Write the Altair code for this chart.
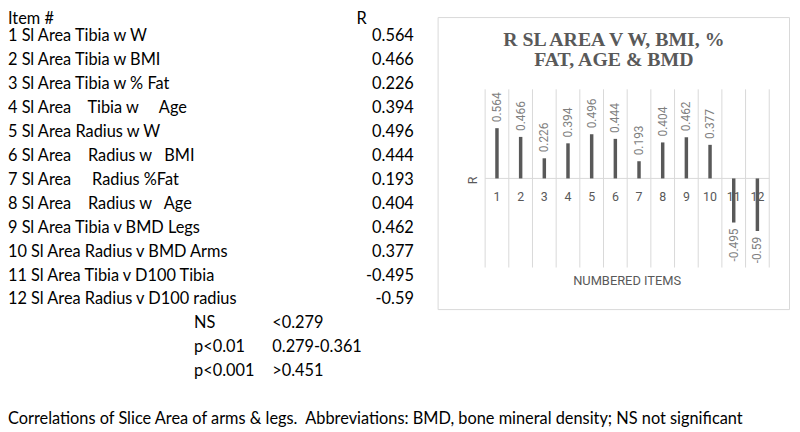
import altair as alt
import pandas as pd

# ---------------- data ----------------
items = list(range(1, 13))
item_labels = [
    "1 Sl Area Tibia w W",
    "2 Sl Area Tibia w BMI",
    "3 Sl Area Tibia w % Fat",
    "4 Sl Area\u00a0\u00a0\u00a0 Tibia w\u00a0\u00a0\u00a0\u00a0 Age",
    "5 Sl Area Radius w W",
    "6 Sl Area\u00a0\u00a0\u00a0 Radius w\u00a0\u00a0 BMI",
    "7 Sl Area\u00a0\u00a0\u00a0\u00a0 Radius %Fat",
    "8 Sl Area\u00a0\u00a0\u00a0 Radius w\u00a0\u00a0 Age",
    "9 Sl Area Tibia v BMD Legs",
    "10 Sl Area Radius v BMD Arms",
    "11 Sl Area Tibia v D100 Tibia",
    "12 Sl Area Radius v D100 radius",
]
r_values = [0.564, 0.466, 0.226, 0.394, 0.496, 0.444, 0.193, 0.404, 0.462, 0.377, -0.495, -0.59]
r_text = ["0.564", "0.466", "0.226", "0.394", "0.496", "0.444", "0.193", "0.404",
          "0.462", "0.377", "-0.495", "-0.59"]
table_header = ["Item #", "R"]
sig_levels = ["NS", "p<0.01", "p<0.001"]
sig_ranges = ["<0.279", "0.279-0.361", ">0.451"]
caption = ("Correlations of Slice Area of arms & legs.\u00a0 Abbreviations: BMD, "
           "bone mineral density; NS not significant")
chart_title = ["R SL AREA V W, BMI, %", "FAT, AGE & BMD"]
x_title = "NUMBERED ITEMS"
y_title = "R"

# ---------------- tables ----------------
rows_df = pd.DataFrame({
    "row": items,
    "label": item_labels,
    "rtext": r_text,
})
header_df = pd.DataFrame({"row": [0, 0], "text": table_header, "col": ["item", "r"]})
sig_df = pd.DataFrame({"row": [13, 14, 15], "level": sig_levels, "range": sig_ranges})
caption_df = pd.DataFrame({"row": [17], "text": [caption]})

bars_df = pd.DataFrame({"item": items, "r": r_values, "lab": r_text,
                        "tick": [str(i) for i in items]})
grid_df = pd.DataFrame({"b": [i - 0.5 for i in items] + [items[-1] + 0.5]})

TABLE_FONT = "Lato"
TFS = 16.5

row_scale = alt.Scale(domain=[0, 17], range=[2.5, 413])
ty = alt.Y("row:Q", scale=row_scale, axis=None)


def ttext(df, xpos, field, align="left", dy=0):
    return alt.Chart(df).mark_text(align=align, baseline="middle", font=TABLE_FONT,
                                   fontSize=TFS, color="#000000", dy=dy).encode(
        x=alt.value(xpos), y=ty, text=f"{field}:N")


t_items = ttext(rows_df, 0, "label")
t_r = ttext(rows_df, 410, "rtext", align="right")
t_h1 = ttext(header_df[header_df["col"] == "item"], 0, "text", dy=6.5)
t_h2 = ttext(header_df[header_df["col"] == "r"], 352, "text", dy=6.5)
t_s1 = ttext(sig_df, 188, "level")
t_s2 = ttext(sig_df, 267, "range")
t_cap = ttext(caption_df, 0, "text")

table = alt.layer(t_items, t_r, t_h1, t_h2, t_s1, t_s2, t_cap)

# ---------------- bar chart ----------------
xs = alt.Scale(domain=[0.5, 12.5], range=[477, 774])
ys = alt.Scale(domain=[-1, 1], range=[260, 80])

box_df = pd.DataFrame({"k": [0]})
box = alt.Chart(box_df).mark_rect(fill="white", stroke="#d9d9d9", strokeWidth=1).encode(
    x=alt.value(434.5), x2=alt.value(789.5), y=alt.value(7.5), y2=alt.value(302.5))

grid = alt.Chart(grid_df).mark_rule(color="#d9d9d9", strokeWidth=1).encode(
    x=alt.X("b:Q", scale=xs, axis=None),
    y=alt.Y(datum=-1, scale=ys, axis=None),
    y2=alt.datum(1))
zero = alt.Chart(box_df).mark_rule(color="#d9d9d9", strokeWidth=1).encode(
    x=alt.X(datum=0.5, scale=xs, axis=None), x2=alt.datum(12.5),
    y=alt.Y(datum=0, scale=ys, axis=None))
bars = alt.Chart(bars_df).mark_bar(size=3.5, color="#595959").encode(
    x=alt.X("item:Q", scale=xs, axis=None),
    y=alt.Y("r:Q", scale=ys, axis=None),
    y2=alt.datum(0))
lab_pos = alt.Chart(bars_df).transform_filter(alt.datum.r > 0).mark_text(
    angle=270, align="left", baseline="middle", dx=6, font="Roboto", fontSize=12,
    color="#7f7f7f").encode(
    x=alt.X("item:Q", scale=xs, axis=None), y=alt.Y("r:Q", scale=ys, axis=None), text="lab:N")
lab_neg = alt.Chart(bars_df).transform_filter(alt.datum.r < 0).mark_text(
    angle=270, align="right", baseline="middle", dx=-6, font="Roboto", fontSize=12,
    color="#7f7f7f").encode(
    x=alt.X("item:Q", scale=xs, axis=None), y=alt.Y("r:Q", scale=ys, axis=None), text="lab:N")
ticks = alt.Chart(bars_df).mark_text(baseline="middle", dy=19, font="Roboto", fontSize=12.5,
                                     color="#595959").encode(
    x=alt.X("item:Q", scale=xs, axis=None), y=alt.Y(datum=0, scale=ys, axis=None),
    text="tick:N")

xt_df = pd.DataFrame({"t": [x_title]})
yt_df = pd.DataFrame({"t": [y_title]})
xtitle = alt.Chart(xt_df).mark_text(baseline="middle", dy=14, font="Roboto", fontSize=13,
                                    color="#595959").encode(
    x=alt.X(datum=6.5, scale=xs, axis=None), y=alt.Y(datum=-1, scale=ys, axis=None),
    text="t:N")
ytitle = alt.Chart(yt_df).mark_text(baseline="middle", angle=270, dy=-12, dx=-2, font="Roboto",
                                    fontSize=12.5, color="#595959").encode(
    x=alt.X(datum=0.5, scale=xs, axis=None), y=alt.Y(datum=0, scale=ys, axis=None),
    text="t:N")

barchart = alt.layer(grid, zero, bars, lab_pos, lab_neg, ticks, xtitle, ytitle)

ttl1 = alt.Chart(pd.DataFrame({"t": [chart_title[0]]})).mark_text(
    align="center", baseline="alphabetic", font="Liberation Serif", fontWeight="bold",
    fontSize=20, color="#595959").encode(x=alt.value(612), y=alt.value(36.5), text="t:N")
ttl2 = alt.Chart(pd.DataFrame({"t": [chart_title[1]]})).mark_text(
    align="center", baseline="alphabetic", font="Liberation Serif", fontWeight="bold",
    fontSize=20, color="#595959").encode(x=alt.value(612), y=alt.value(56.5), text="t:N")

chart = alt.layer(box, table, barchart, ttl1, ttl2).resolve_scale(
    x="independent", y="independent"
).properties(
    width=792, height=424, padding=0,
    autosize=alt.AutoSizeParams(type="none"),
    background="white",
).configure_view(stroke=None)

chart.save("out.html", embed_options={"renderer": "svg", "actions": False})
